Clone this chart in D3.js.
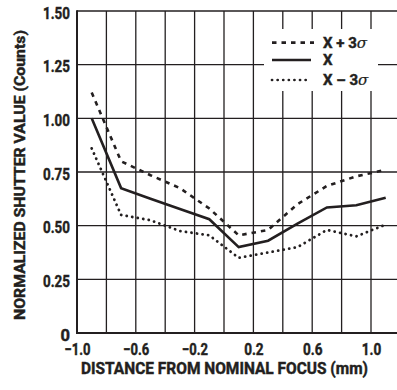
<!DOCTYPE html>
<html>
<head>
<meta charset="utf-8">
<script src="https://cdn.jsdelivr.net/npm/d3@7"></script>
<style>
	body { margin: 0; background: #fff; }
	svg { display: block; overflow: hidden; }
	text { font-family: Roboto, "Liberation Sans", sans-serif; font-weight: bold; fill: #231f20; stroke: #231f20; stroke-width: 0.45px; }
</style>
</head>
<body>
<svg id="chart" width="397" height="390"></svg>
<script>
// distance from nominal focus (mm)
var distance = [-0.9, -0.7, -0.5, -0.3, -0.1, 0.1, 0.3, 0.5, 0.7, 0.9, 1.1];
var plus3Sigma = [1.12, 0.80, 0.735, 0.675, 0.58, 0.455, 0.48, 0.60, 0.685, 0.73, 0.76];
var mean = [1.00, 0.675, 0.625, 0.578, 0.53, 0.40, 0.43, 0.51, 0.585, 0.595, 0.63];
var minus3Sigma = [0.86, 0.55, 0.525, 0.475, 0.455, 0.35, 0.375, 0.40, 0.48, 0.45, 0.505];

var xTicks = [-1.0, -0.6, -0.2, 0.2, 0.6, 1.0];
var xGrid = [-0.8, -0.6, -0.4, -0.2, 0, 0.2, 0.4, 0.6, 0.8, 1.0, 1.2];
var yTicks = [0, 0.25, 0.5, 0.75, 1.0, 1.25, 1.5];

var svg = d3.select('#chart'),
	ink = '#231f20';

var x = d3.scaleLinear().domain([-1.0, 1.2]).range([77, 400.4]);
var y = d3.scaleLinear().domain([0, 1.5]).range([333, 11]);

var g = svg.append('g');

// grid
g.selectAll('.vgrid').data(xGrid).enter().append('line')
	.attr('x1', function(d) { return x(d); })
	.attr('x2', function(d) { return x(d); })
	.attr('y1', y(0)).attr('y2', y(1.5))
	.style('stroke', ink).style('stroke-width', 1.3);

g.selectAll('.hgrid').data(yTicks).enter().append('line')
	.attr('x1', x(-1)).attr('x2', 397)
	.attr('y1', function(d) { return y(d); })
	.attr('y2', function(d) { return y(d); })
	.style('stroke', ink).style('stroke-width', function(d) { return d === 0 ? 2 : 1.4; });

// left axis line
g.append('line')
	.attr('x1', x(-1)).attr('x2', x(-1))
	.attr('y1', y(1.5) - 0.7).attr('y2', y(0) + 1)
	.style('stroke', ink).style('stroke-width', 2);

// tick labels (squeezed a bit, the original face is condensed)
var yAxis = d3.axisLeft(y).tickValues(yTicks).tickSize(0).tickPadding(7)
	.tickFormat(function(d) { return d === 0 ? '0' : d3.format('.2f')(d); });
var ya = g.append('g').attr('transform', 'translate(' + x(-1) + ',2)').call(yAxis);
ya.select('.domain').remove();
ya.selectAll('text')
	.style('font-size', '16.5px').style('font-family', null).attr('fill', ink)
	.attr('textLength', function(d) { return d === 0 ? null : 27; })
	.attr('lengthAdjust', 'spacingAndGlyphs');

var xAxis = d3.axisBottom(x).tickValues(xTicks).tickSize(0).tickPadding(0).tickFormat(d3.format('.1f'));
var xa = g.append('g').attr('transform', 'translate(0,' + y(0) + ')').call(xAxis);
xa.select('.domain').remove();
xa.selectAll('text')
	.attr('dy', null).attr('y', 21.5)
	.style('font-size', '16.5px').style('font-family', null).attr('fill', ink)
	.attr('textLength', function(d) { return d < 0 ? 26 : 19.5; })
	.attr('lengthAdjust', 'spacingAndGlyphs');

// axis titles
svg.append('text')
	.attr('x', 81).attr('y', 373.5)
	.attr('textLength', 287).attr('lengthAdjust', 'spacingAndGlyphs')
	.style('font-size', '16.5px')
	.text('DISTANCE FROM NOMINAL FOCUS (mm)');

svg.append('text')
	.attr('transform', 'translate(24.5,320) rotate(-90)')
	.attr('textLength', 290).attr('lengthAdjust', 'spacingAndGlyphs')
	.style('font-size', '14.5px')
	.text('NORMALIZED SHUTTER VALUE (Counts)');

// lines
var line = d3.line()
	.x(function(d) { return x(d[0]); })
	.y(function(d) { return y(d[1]); });

var series = [
	{ values: plus3Sigma, dash: '4.5,5', width: 2.6, cap: 'butt' },
	{ values: mean, dash: null, width: 2.6, cap: 'butt' },
	{ values: minus3Sigma, dash: '0.1,5.5', width: 2.8, cap: 'round' }
];

series.forEach(function(s) {
	g.append('path')
		.attr('d', line(d3.zip(distance, s.values)))
		.style('fill', 'none')
		.style('stroke', ink)
		.style('stroke-width', s.width)
		.style('stroke-linecap', s.cap)
		.style('stroke-linejoin', 'miter')
		.style('stroke-dasharray', s.dash);
});

// legend
var legend = svg.append('g');
legend.append('rect')
	.attr('x', 264).attr('y', 29).attr('width', 114).attr('height', 62)
	.style('fill', '#fff');

var items = [
	{ label: 'X + 3', sigma: true, dash: '4.5,5', cap: 'butt', y: 42.7, x2: 314 },
	{ label: 'X', sigma: false, dash: null, cap: 'butt', y: 60, x2: 311 },
	{ label: 'X \u2013 3', sigma: true, dash: '0.1,5.5', cap: 'round', y: 80, x2: 307 }
];

items.forEach(function(it) {
	legend.append('line')
		.attr('x1', 272).attr('x2', it.x2)
		.attr('y1', it.y).attr('y2', it.y)
		.style('stroke', ink).style('stroke-width', 2.7)
		.style('stroke-linecap', it.cap)
		.style('stroke-dasharray', it.dash);
	var t = legend.append('text')
		.attr('x', 323).attr('y', it.y + 5)
		.style('font-size', '15px')
		.text(it.label);
	if(it.sigma) {
		t.append('tspan')
			.style('font-family', '"DejaVu Serif", "Liberation Serif", serif')
			.style('font-style', 'italic')
			.style('font-weight', 'normal')
			.style('stroke-width', '0.2px')
			.text('\u03c3');
	}
});
</script>
</body>
</html>
